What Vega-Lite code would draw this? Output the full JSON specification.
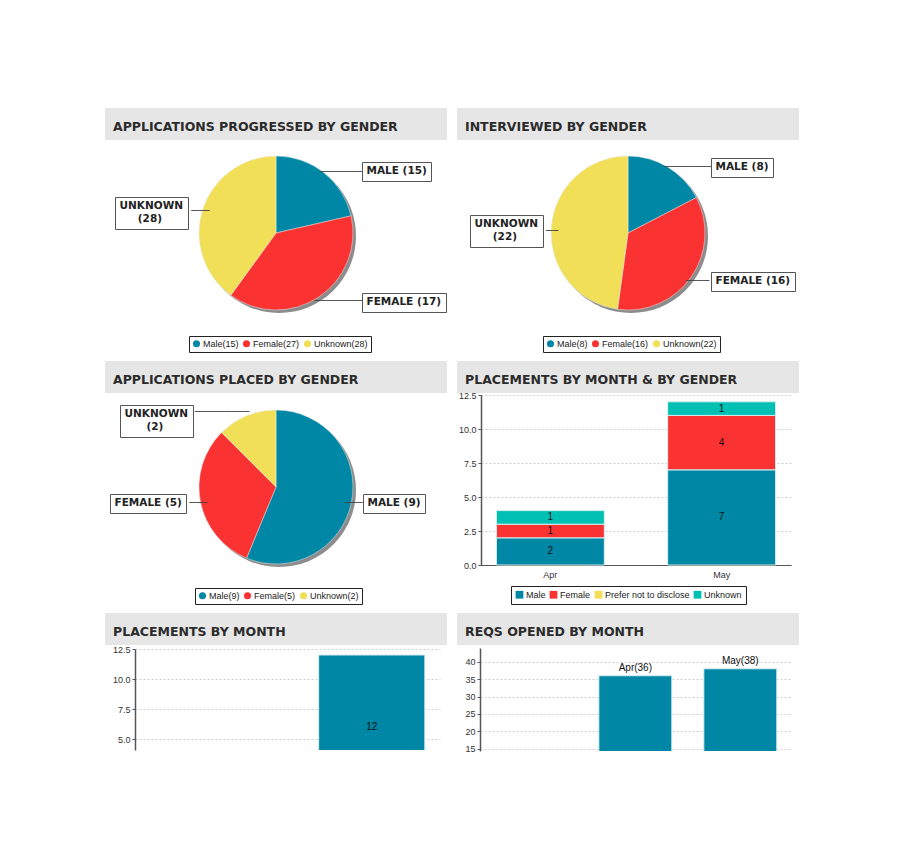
{
  "$schema": "https://vega.github.io/schema/vega-lite/v6.json",
  "background": "#ffffff",
  "padding": {"left": 105, "top": 108, "right": 0, "bottom": 0},
  "spacing": 8,
  "align": "none",
  "resolve": {"scale": {"color": "independent", "shape": "independent", "strokeDash": "independent", "stroke": "independent"}, "legend": {"color": "independent", "shape": "independent", "strokeDash": "independent", "stroke": "independent"}},
  "config": {
    "view": {"stroke": null},
    "font": "Liberation Sans",
    "axis": {"labelFont": "Liberation Sans", "labelFontSize": 9, "labelColor": "#333333", "title": null, "gridColor": "#cfcfcf", "gridDash": [2, 2], "domainColor": "#555555", "tickColor": "#555555", "tickSize": 3, "labelPadding": 2},
    "legend": {"title": null, "direction": "horizontal", "orient": "none", "labelFont": "Liberation Sans", "labelFontSize": 9, "labelColor": "#222222", "strokeColor": "#222222", "padding": 3, "columnPadding": 3, "symbolStrokeWidth": 0, "labelOffset": 2, "symbolSize": 50},
    "title": {"anchor": "start", "orient": "top", "offset": -25, "baseline": "middle", "dx": 8, "font": "DejaVu Sans", "fontSize": 12.5, "fontWeight": "bold", "color": "#2b2b2b", "frame": "group"}
  },
  "vconcat": [
    {
      "spacing": 10,
      "align": "none",
      "resolve": {"scale": {"color": "independent", "shape": "independent", "strokeDash": "independent", "stroke": "independent"}, "legend": {"color": "independent", "shape": "independent", "strokeDash": "independent", "stroke": "independent"}},
      "hconcat": [
        {
          "spacing": 5,
          "align": "none",
          "resolve": {"scale": {"color": "independent", "shape": "independent", "strokeDash": "independent", "stroke": "independent"}, "legend": {"color": "independent", "shape": "independent", "strokeDash": "independent", "stroke": "independent"}},
          "vconcat": [
            {"width": 342, "height": 32, "view": {"fill": "#e6e6e6", "stroke": null}, "title": "APPLICATIONS PROGRESSED BY GENDER", "data": {"values": [{}]}, "mark": {"type": "text", "text": ""}, "encoding": {}},
            {
              "width": 342, "height": 176,
              "data": {"values": [
                {"gender": "Male", "value": 15, "label": "MALE (15)", "legend": "Male(15)"},
                {"gender": "Female", "value": 27, "label": "FEMALE (17)", "legend": "Female(27)"},
                {"gender": "Unknown", "value": 28, "label": "UNKNOWN (28)", "legend": "Unknown(28)"}
              ]},
              "encoding": {
                "theta": {"field": "value", "type": "quantitative", "stack": true},
                "order": {"field": "value", "sort": "ascending"}
              },
              "layer": [
                {"data": {"values": [{}]}, "mark": {"type": "arc", "theta": 0, "theta2": 6.2832, "radius": 77, "color": "#8c8c8c", "xOffset": 3, "yOffset": 3}, "encoding": {"theta": null, "order": null}},
                {"mark": {"type": "arc", "radius": 77, "stroke": "#e8e8e8", "strokeWidth": 0.5},
                 "encoding": {"color": {"field": "legend", "type": "nominal", "scale": {"domain": ["Male(15)", "Female(27)", "Unknown(28)"], "range": ["#0087a5", "#fb3232", "#f2df58"]}, "legend": {"legendX": 84, "legendY": 191}}}},
                {"mark": {"type": "text", "radius": 70, "align": "left", "dx": 0, "dy": -6, "font": "DejaVu Sans", "fontSize": 10, "color": "#444444"},
                 "encoding": {"detail": {"field": "gender"}, "text": {"condition": {"test": "datum.gender === 'Male'", "value": "───────"}, "value": ""}}},
                {"mark": {"type": "text", "radius": 70, "align": "left", "dx": 0, "dy": 10, "font": "DejaVu Sans", "fontSize": 10, "color": "#444444"},
                 "encoding": {"detail": {"field": "gender"}, "text": {"condition": {"test": "datum.gender === 'Female'", "value": "────────"}, "value": ""}}},
                {"mark": {"type": "text", "radius": 70, "align": "right", "dx": 0, "dy": 0, "font": "DejaVu Sans", "fontSize": 10, "color": "#444444"},
                 "encoding": {"detail": {"field": "gender"}, "text": {"condition": {"test": "datum.gender === 'Unknown'", "value": "───"}, "value": ""}}},
                {"transform": [{"filter": "datum.gender === 'Male'"}], "mark": {"type": "point", "opacity": 0},
                 "encoding": {"theta": null, "order": null, "shape": {"field": "label", "type": "nominal", "legend": {"legendX": 257, "legendY": 17, "strokeColor": "#555555", "fillColor": "#ffffff", "padding": 4, "symbolOpacity": 0, "symbolSize": 0, "labelOffset": -10, "labelFont": "DejaVu Sans", "labelFontWeight": "bold", "labelFontSize": 10.5, "labelColor": "#222222"}}}},
                {"transform": [{"filter": "datum.gender === 'Female'"}], "mark": {"type": "point", "opacity": 0},
                 "encoding": {"theta": null, "order": null, "strokeDash": {"field": "label", "type": "nominal", "legend": {"legendX": 257, "legendY": 148, "strokeColor": "#555555", "fillColor": "#ffffff", "padding": 4, "symbolOpacity": 0, "symbolSize": 0, "labelOffset": -10, "labelFont": "DejaVu Sans", "labelFontWeight": "bold", "labelFontSize": 10.5, "labelColor": "#222222"}}}},
                {"transform": [{"filter": "datum.gender === 'Unknown'"}], "mark": {"type": "point", "opacity": 0},
                 "encoding": {"theta": null, "order": null, "stroke": {"field": "label", "type": "nominal", "legend": {"legendX": 10, "legendY": 52, "strokeColor": "#555555", "fillColor": "#ffffff", "padding": 4, "symbolOpacity": 0, "symbolSize": 0, "labelOffset": -10, "labelExpr": "[split(datum.label, ' ')[0], '\u200b\u00a0\u00a0\u00a0\u00a0\u00a0' + split(datum.label, ' ')[1]]", "labelFont": "DejaVu Sans", "labelFontWeight": "bold", "labelFontSize": 10.5, "labelColor": "#222222"}}}}
              ]
            }
          ]
        },
        {
          "spacing": 5,
          "align": "none",
          "resolve": {"scale": {"color": "independent", "shape": "independent", "strokeDash": "independent", "stroke": "independent"}, "legend": {"color": "independent", "shape": "independent", "strokeDash": "independent", "stroke": "independent"}},
          "vconcat": [
            {"width": 342, "height": 32, "view": {"fill": "#e6e6e6", "stroke": null}, "title": "INTERVIEWED BY GENDER", "data": {"values": [{}]}, "mark": {"type": "text", "text": ""}, "encoding": {}},
            {
              "width": 342, "height": 176,
              "data": {"values": [
                {"gender": "Male", "value": 8, "label": "MALE (8)", "legend": "Male(8)"},
                {"gender": "Female", "value": 16, "label": "FEMALE (16)", "legend": "Female(16)"},
                {"gender": "Unknown", "value": 22, "label": "UNKNOWN (22)", "legend": "Unknown(22)"}
              ]},
              "encoding": {
                "theta": {"field": "value", "type": "quantitative", "stack": true},
                "order": {"field": "value", "sort": "ascending"}
              },
              "layer": [
                {"data": {"values": [{}]}, "mark": {"type": "arc", "theta": 0, "theta2": 6.2832, "radius": 77, "color": "#8c8c8c", "xOffset": 3, "yOffset": 3}, "encoding": {"theta": null, "order": null}},
                {"mark": {"type": "arc", "radius": 77, "stroke": "#e8e8e8", "strokeWidth": 0.5},
                 "encoding": {"color": {"field": "legend", "type": "nominal", "scale": {"domain": ["Male(8)", "Female(16)", "Unknown(22)"], "range": ["#0087a5", "#fb3232", "#f2df58"]}, "legend": {"legendX": 86, "legendY": 191}}}},
                {"mark": {"type": "text", "radius": 70, "align": "left", "dx": 0, "dy": -6, "font": "DejaVu Sans", "fontSize": 10, "color": "#444444"},
                 "encoding": {"detail": {"field": "gender"}, "text": {"condition": {"test": "datum.gender === 'Male'", "value": "────────"}, "value": ""}}},
                {"mark": {"type": "text", "radius": 70, "align": "left", "dx": 0, "dy": 8, "font": "DejaVu Sans", "fontSize": 10, "color": "#444444"},
                 "encoding": {"detail": {"field": "gender"}, "text": {"condition": {"test": "datum.gender === 'Female'", "value": "────"}, "value": ""}}},
                {"mark": {"type": "text", "radius": 70, "align": "right", "dx": 0, "dy": 3, "font": "DejaVu Sans", "fontSize": 10, "color": "#444444"},
                 "encoding": {"detail": {"field": "gender"}, "text": {"condition": {"test": "datum.gender === 'Unknown'", "value": "──"}, "value": ""}}},
                {"transform": [{"filter": "datum.gender === 'Male'"}], "mark": {"type": "point", "opacity": 0},
                 "encoding": {"theta": null, "order": null, "shape": {"field": "label", "type": "nominal", "legend": {"legendX": 254, "legendY": 13, "strokeColor": "#555555", "fillColor": "#ffffff", "padding": 4, "symbolOpacity": 0, "symbolSize": 0, "labelOffset": -10, "labelFont": "DejaVu Sans", "labelFontWeight": "bold", "labelFontSize": 10.5, "labelColor": "#222222"}}}},
                {"transform": [{"filter": "datum.gender === 'Female'"}], "mark": {"type": "point", "opacity": 0},
                 "encoding": {"theta": null, "order": null, "strokeDash": {"field": "label", "type": "nominal", "legend": {"legendX": 254, "legendY": 127, "strokeColor": "#555555", "fillColor": "#ffffff", "padding": 4, "symbolOpacity": 0, "symbolSize": 0, "labelOffset": -10, "labelFont": "DejaVu Sans", "labelFontWeight": "bold", "labelFontSize": 10.5, "labelColor": "#222222"}}}},
                {"transform": [{"filter": "datum.gender === 'Unknown'"}], "mark": {"type": "point", "opacity": 0},
                 "encoding": {"theta": null, "order": null, "stroke": {"field": "label", "type": "nominal", "legend": {"legendX": 13, "legendY": 70, "strokeColor": "#555555", "fillColor": "#ffffff", "padding": 4, "symbolOpacity": 0, "symbolSize": 0, "labelOffset": -10, "labelExpr": "[split(datum.label, ' ')[0], '\u200b\u00a0\u00a0\u00a0\u00a0\u00a0' + split(datum.label, ' ')[1]]", "labelFont": "DejaVu Sans", "labelFontWeight": "bold", "labelFontSize": 10.5, "labelColor": "#222222"}}}}
              ]
            }
          ]
        }
      ]
    },
    {
      "spacing": 10,
      "align": "none",
      "resolve": {"scale": {"color": "independent", "shape": "independent", "strokeDash": "independent", "stroke": "independent"}, "legend": {"color": "independent", "shape": "independent", "strokeDash": "independent", "stroke": "independent"}},
      "hconcat": [
        {
          "spacing": 5,
          "align": "none",
          "resolve": {"scale": {"color": "independent", "shape": "independent", "strokeDash": "independent", "stroke": "independent"}, "legend": {"color": "independent", "shape": "independent", "strokeDash": "independent", "stroke": "independent"}},
          "vconcat": [
            {"width": 342, "height": 32, "view": {"fill": "#e6e6e6", "stroke": null}, "title": "APPLICATIONS PLACED BY GENDER", "data": {"values": [{}]}, "mark": {"type": "text", "text": ""}, "encoding": {}},
            {
              "width": 342, "height": 178,
              "data": {"values": [
                {"gender": "Male", "value": 9, "label": "MALE (9)", "legend": "Male(9)"},
                {"gender": "Female", "value": 5, "label": "FEMALE (5)", "legend": "Female(5)"},
                {"gender": "Unknown", "value": 2, "label": "UNKNOWN (2)", "legend": "Unknown(2)"}
              ]},
              "encoding": {
                "theta": {"field": "value", "type": "quantitative", "stack": true},
                "order": {"field": "value", "sort": "descending"}
              },
              "layer": [
                {"data": {"values": [{}]}, "mark": {"type": "arc", "theta": 0, "theta2": 6.2832, "radius": 77, "color": "#8c8c8c", "xOffset": 3, "yOffset": 3}, "encoding": {"theta": null, "order": null}},
                {"mark": {"type": "arc", "radius": 77, "stroke": "#e8e8e8", "strokeWidth": 0.5},
                 "encoding": {"color": {"field": "legend", "type": "nominal", "scale": {"domain": ["Male(9)", "Female(5)", "Unknown(2)"], "range": ["#0087a5", "#fb3232", "#f2df58"]}, "legend": {"legendX": 90, "legendY": 190}}}},
                {"mark": {"type": "text", "radius": 70, "align": "left", "dx": 0, "dy": 2, "font": "DejaVu Sans", "fontSize": 10, "color": "#444444"},
                 "encoding": {"detail": {"field": "gender"}, "text": {"condition": {"test": "datum.gender === 'Male'", "value": "───"}, "value": ""}}},
                {"mark": {"type": "text", "radius": 70, "align": "right", "dx": 0, "dy": 2, "font": "DejaVu Sans", "fontSize": 10, "color": "#444444"},
                 "encoding": {"detail": {"field": "gender"}, "text": {"condition": {"test": "datum.gender === 'Female'", "value": "───"}, "value": ""}}},
                {"mark": {"type": "text", "radius": 70, "align": "right", "dx": 0, "dy": -10, "font": "DejaVu Sans", "fontSize": 10, "color": "#444444"},
                 "encoding": {"detail": {"field": "gender"}, "text": {"condition": {"test": "datum.gender === 'Unknown'", "value": "─────────"}, "value": ""}}},
                {"transform": [{"filter": "datum.gender === 'Male'"}], "mark": {"type": "point", "opacity": 0},
                 "encoding": {"theta": null, "order": null, "shape": {"field": "label", "type": "nominal", "legend": {"legendX": 258, "legendY": 96, "strokeColor": "#555555", "fillColor": "#ffffff", "padding": 4, "symbolOpacity": 0, "symbolSize": 0, "labelOffset": -10, "labelFont": "DejaVu Sans", "labelFontWeight": "bold", "labelFontSize": 10.5, "labelColor": "#222222"}}}},
                {"transform": [{"filter": "datum.gender === 'Female'"}], "mark": {"type": "point", "opacity": 0},
                 "encoding": {"theta": null, "order": null, "strokeDash": {"field": "label", "type": "nominal", "legend": {"legendX": 5, "legendY": 96, "strokeColor": "#555555", "fillColor": "#ffffff", "padding": 4, "symbolOpacity": 0, "symbolSize": 0, "labelOffset": -10, "labelFont": "DejaVu Sans", "labelFontWeight": "bold", "labelFontSize": 10.5, "labelColor": "#222222"}}}},
                {"transform": [{"filter": "datum.gender === 'Unknown'"}], "mark": {"type": "point", "opacity": 0},
                 "encoding": {"theta": null, "order": null, "stroke": {"field": "label", "type": "nominal", "legend": {"legendX": 15, "legendY": 7, "strokeColor": "#555555", "fillColor": "#ffffff", "padding": 4, "symbolOpacity": 0, "symbolSize": 0, "labelOffset": -10, "labelExpr": "[split(datum.label, ' ')[0], '\u200b\u00a0\u00a0\u00a0\u00a0\u00a0\u00a0' + split(datum.label, ' ')[1]]", "labelFont": "DejaVu Sans", "labelFontWeight": "bold", "labelFontSize": 10.5, "labelColor": "#222222"}}}}
              ]
            }
          ]
        },
        {
          "spacing": -4,
          "align": "none",
          "resolve": {"scale": {"color": "independent"}, "legend": {"color": "independent"}},
          "vconcat": [
            {"width": 342, "height": 32, "view": {"fill": "#e6e6e6", "stroke": null}, "title": "PLACEMENTS BY MONTH & BY GENDER", "data": {"values": [{}]}, "mark": {"type": "text", "text": ""}, "encoding": {}},
            {
              "spacing": 0,
              "align": "none",
              "hconcat": [
                {"width": 1, "height": 1, "data": {"values": [{}]}, "mark": {"type": "text", "text": ""}, "encoding": {}},
                {
                  "width": 310, "height": 170,
                  "data": {"values": [
                    {"month": "Apr", "gender": "Male", "value": 2},
                    {"month": "Apr", "gender": "Female", "value": 1},
                    {"month": "Apr", "gender": "Unknown", "value": 1},
                    {"month": "May", "gender": "Male", "value": 7},
                    {"month": "May", "gender": "Female", "value": 4},
                    {"month": "May", "gender": "Unknown", "value": 1}
                  ]},
                  "encoding": {
                    "x": {"field": "month", "type": "nominal", "scale": {"paddingInner": 0.37, "paddingOuter": 0.09}, "axis": {"labelAngle": 0, "ticks": false, "labelPadding": 5}},
                    "y": {"field": "value", "type": "quantitative", "stack": "zero", "scale": {"domain": [0, 12.5]}, "axis": {"values": [0, 2.5, 5, 7.5, 10, 12.5], "format": ".1f", "minExtent": 22, "domainWidth": 1.5}},
                    "order": {"field": "value", "sort": "descending"},
                    "detail": {"field": "gender"}
                  },
                  "layer": [
                    {"mark": {"type": "bar", "stroke": "#d8eeee", "strokeWidth": 1},
                     "encoding": {"color": {"field": "gender", "type": "nominal", "scale": {"domain": ["Male", "Female", "Prefer not to disclose", "Unknown"], "range": ["#0087a5", "#fb3232", "#f2df58", "#00c0b4"]}, "legend": {"symbolType": "square", "symbolSize": 60, "padding": 4, "legendX": 54, "legendY": 191}}}},
                    {"mark": {"type": "text", "fontSize": 10, "color": "#111111"},
                     "encoding": {"y": {"field": "value", "type": "quantitative", "stack": "zero", "bandPosition": 0.5}, "text": {"field": "value", "type": "quantitative"}}}
                  ]
                }
              ]
            }
          ]
        }
      ]
    },
    {
      "spacing": 10,
      "align": "none",
      "hconcat": [
        {
          "spacing": -2,
          "align": "none",
          "vconcat": [
            {"width": 342, "height": 32, "view": {"fill": "#e6e6e6", "stroke": null}, "title": "PLACEMENTS BY MONTH", "data": {"values": [{}]}, "mark": {"type": "text", "text": ""}, "encoding": {}},
            {
              "spacing": 0,
              "align": "none",
              "hconcat": [
                {"width": 1, "height": 1, "data": {"values": [{}]}, "mark": {"type": "text", "text": ""}, "encoding": {}},
                {
                  "width": 305, "height": 101,
                  "data": {"values": [{"month": "Apr", "value": 4}, {"month": "May", "value": 12}]},
                  "encoding": {
                    "x": {"field": "month", "type": "nominal", "scale": {"paddingInner": 0.37, "paddingOuter": 0.09}, "axis": null},
                    "y": {"field": "value", "type": "quantitative", "stack": "zero", "scale": {"domain": [4.1, 12.5]}, "axis": {"values": [5, 7.5, 10, 12.5], "format": ".1f", "minExtent": 29, "domainWidth": 1.5}}
                  },
                  "layer": [
                    {"mark": {"type": "bar", "clip": true, "color": "#0087a5", "stroke": "#d8eeee", "strokeWidth": 1}},
                    {"mark": {"type": "text", "clip": true, "fontSize": 10, "color": "#111111"},
                     "encoding": {"y": {"field": "value", "type": "quantitative", "stack": "zero", "bandPosition": 0.5}, "text": {"field": "value", "type": "quantitative"}}}
                  ]
                }
              ]
            }
          ]
        },
        {
          "spacing": -3,
          "align": "none",
          "vconcat": [
            {"width": 342, "height": 32, "view": {"fill": "#e6e6e6", "stroke": null}, "title": "REQS OPENED BY MONTH", "data": {"values": [{}]}, "mark": {"type": "text", "text": ""}, "encoding": {}},
            {
              "spacing": 0,
              "align": "none",
              "hconcat": [
                {"width": 1, "height": 1, "data": {"values": [{}]}, "mark": {"type": "text", "text": ""}, "encoding": {}},
                {
                  "width": 310, "height": 103,
                  "data": {"values": [{"month": "Apr", "value": 36}, {"month": "May", "value": 38}]},
                  "encoding": {
                    "x": {"field": "month", "type": "nominal", "scale": {"paddingInner": 0.305, "paddingOuter": 0.629, "align": 0.9}, "axis": null},
                    "y": {"field": "value", "type": "quantitative", "scale": {"domain": [14.3, 44]}, "axis": {"values": [15, 20, 25, 30, 35, 40], "minExtent": 22, "domainWidth": 1.5}}
                  },
                  "layer": [
                    {"mark": {"type": "bar", "clip": true, "color": "#0087a5", "stroke": "#d8eeee", "strokeWidth": 1}},
                    {"transform": [{"calculate": "datum.month + '(' + datum.value + ')'", "as": "lab"}],
                     "mark": {"type": "text", "fontSize": 10, "baseline": "bottom", "dy": -3, "color": "#111111"},
                     "encoding": {"text": {"field": "lab", "type": "nominal"}}}
                  ]
                }
              ]
            }
          ]
        }
      ]
    }
  ]
}
